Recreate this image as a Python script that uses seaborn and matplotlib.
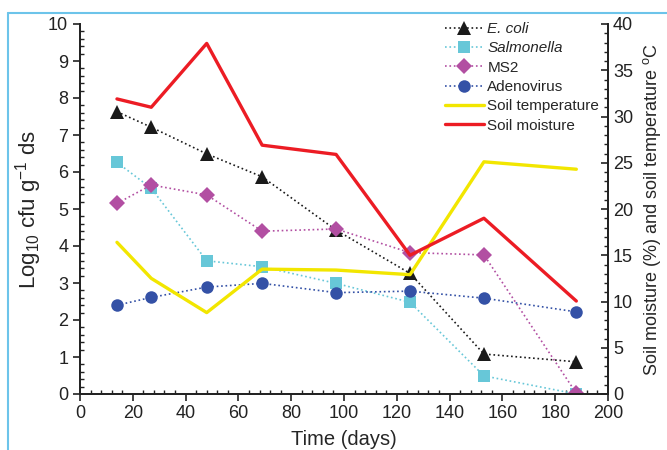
import matplotlib
matplotlib.use('Agg')
import matplotlib.pyplot as plt
import seaborn as sns
import numpy as np
from matplotlib.lines import Line2D
from matplotlib.ticker import MultipleLocator

# data
days = [14, 27, 48, 69, 97, 125, 153, 188]
ecoli = [7.63, 7.21, 6.49, 5.87, 4.43, 3.26, 1.08, 0.87]
salmonella = [6.26, 5.56, 3.60, 3.44, 2.99, 2.48, 0.49, 0.0]
ms2 = [5.15, 5.65, 5.38, 4.40, 4.46, 3.82, 3.76, 0.02]
adenovirus = [2.40, 2.61, 2.89, 2.99, 2.74, 2.78, 2.59, 2.22]
soil_temp = [16.4, 12.5, 8.8, 13.5, 13.4, 12.9, 25.1, 24.3]
soil_moist = [31.9, 31.0, 37.9, 26.9, 25.9, 15.0, 19.0, 10.05]

sns.set_style('ticks')
plt.rcParams['font.family'] = ['Liberation Sans', 'DejaVu Sans']
plt.rcParams['mathtext.fontset'] = 'custom'
plt.rcParams['mathtext.rm'] = 'Liberation Sans'
plt.rcParams['mathtext.it'] = 'Liberation Sans:italic'

fig = plt.figure(figsize=(6.67, 4.5), dpi=100)
ax = fig.add_axes([80/667, 56/450, 528/667, 370/450])
ax2 = ax.twinx()

# microorganisms (left axis)
series = [
    ('E. coli', ecoli, '^', '#1a1a1a', 10),
    ('Salmonella', salmonella, 's', '#67c7d8', 8),
    ('MS2', ms2, 'D', '#b24fa2', 8),
    ('Adenovirus', adenovirus, 'o', '#3451a6', 9),
]
handles = []
for name, vals, mk, col, ms in series:
    sns.lineplot(x=days, y=vals, ax=ax, marker=mk, color=col, markersize=ms,
                 linestyle=':', linewidth=1.2, markeredgewidth=0, sort=False)
    handles.append(Line2D([], [], color=col, marker=mk, markersize=ms,
                          linestyle=':', linewidth=1.2, markeredgewidth=0))

# soil conditions (right axis)
sns.lineplot(x=days, y=soil_temp, ax=ax2, color='#f2e600', linewidth=2.4, sort=False)
sns.lineplot(x=days, y=soil_moist, ax=ax2, color='#ec1c24', linewidth=2.4, sort=False)
handles.append(Line2D([], [], color='#f2e600', linewidth=2.4))
handles.append(Line2D([], [], color='#ec1c24', linewidth=2.4))

ax.set_xlim(0, 200)
ax.set_ylim(0, 10)
ax2.set_ylim(0, 40)
ax.xaxis.set_major_locator(MultipleLocator(20))
ax.xaxis.set_minor_locator(MultipleLocator(4))
ax.yaxis.set_major_locator(MultipleLocator(1))
ax.yaxis.set_minor_locator(MultipleLocator(0.2))
ax2.yaxis.set_major_locator(MultipleLocator(5))
ax2.yaxis.set_minor_locator(MultipleLocator(1))

# no top spine in the original
for a in (ax, ax2):
    a.spines['top'].set_visible(False)
    for s in a.spines.values():
        s.set_linewidth(1.3)
        s.set_color('#222222')
ax.tick_params(which='major', direction='out', length=5, width=1.2, labelsize=13, colors='#222222')
ax.tick_params(which='minor', direction='in', length=3, width=1.0, colors='#222222')
ax.tick_params(axis='x', pad=3)
ax2.tick_params(which='major', direction='in', length=5, width=1.2, labelsize=13, colors='#222222')
ax2.tick_params(which='minor', direction='in', length=3, width=1.0, colors='#222222')

ax.set_xlabel('Time (days)', fontsize=14.5, labelpad=6)
ax.set_ylabel('Log$_{10}$ cfu g$^{-1}$ ds', fontsize=16, labelpad=3)
ax2.set_ylabel('Soil moisture (%) and soil temperature $^{\\mathrm{o}}$C', fontsize=13, labelpad=6)

labels = ['E. coli', 'Salmonella', 'MS2', 'Adenovirus', 'Soil temperature', 'Soil moisture']
leg = ax2.legend(handles, labels, loc='upper right', bbox_to_anchor=(0.995, 1.022),
                 frameon=False, fontsize=11, handlelength=2.6, handletextpad=0.2,
                 labelspacing=0.35, borderaxespad=0)
for t in leg.get_texts()[:2]:
    t.set_style('italic')

# light blue frame lines of the original panel
fig.add_artist(Line2D([8/667, 1], [1 - 13/450, 1 - 13/450], color='#6cc4ea', linewidth=1.5))
fig.add_artist(Line2D([8/667, 8/667], [0, 1 - 13/450], color='#6cc4ea', linewidth=1.5))

fig.savefig('out.png', dpi=100)
